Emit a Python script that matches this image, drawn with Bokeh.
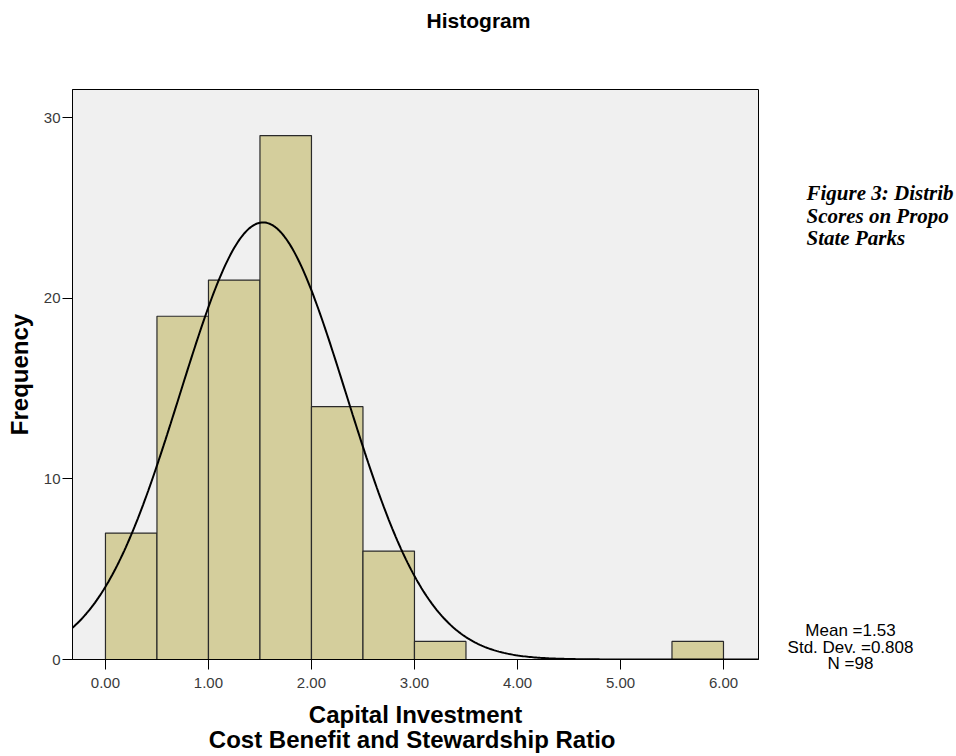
import numpy as np
from bokeh.plotting import figure
from bokeh.layouts import column, row
from bokeh.models import ColumnDataSource, FixedTicker, Range1d, NumeralTickFormatter
from bokeh.core.properties import value
from bokeh.embed import file_html
from bokeh.resources import INLINE

# Data
bin_left = [0.0, 0.5, 1.0, 1.5, 2.0, 2.5, 3.0, 5.5]
bin_right = [0.5, 1.0, 1.5, 2.0, 2.5, 3.0, 3.5, 6.0]
counts = [7, 19, 21, 29, 14, 6, 1, 1]
mean_val = 1.53
std_val = 0.808
n_val = 98
bin_width = 0.5
x_ticks = [0, 1, 2, 3, 4, 5, 6]
y_ticks = [0, 10, 20, 30]
stats_lines = ["Mean =1.53", "Std. Dev. =0.808", "N =98"]
caption_lines = ["Figure 3: Distrib", "Scores on Propo", "State Parks"]
title_text = "Histogram"
x_title = "Capital Investment\nCost Benefit  and Stewardship Ratio"
y_title = "Frequency"

FONT = "Liberation Sans"
TOP_H = 45
TOTAL_H = 756
MAIN_W = 760
SIDE_W = 196
FRAME_L = 72
FRAME_R = 758


def blank(w, h, xr, yr):
    f = figure(width=w, height=h, output_backend="svg", toolbar_location=None,
               x_range=Range1d(*xr), y_range=Range1d(*yr),
               x_axis_type=None, y_axis_type=None,
               min_border_left=0, min_border_right=0, min_border_top=0, min_border_bottom=0)
    f.outline_line_color = None
    f.background_fill_color = "white"
    f.border_fill_color = "white"
    f.xgrid.visible = False
    f.ygrid.visible = False
    return f


# Top strip with the title; its frame gets aligned with the main frame (page pixels)
top = blank(MAIN_W, TOP_H, (FRAME_L, FRAME_R), (TOP_H, 0))
top.text(x=[478], y=[20], text=[title_text], text_font=value(FONT), text_font_size="21px",
         text_font_style="bold", text_align="center", text_baseline="middle", text_color="black")

# Main histogram
p = figure(width=MAIN_W, height=TOTAL_H - TOP_H, output_backend="svg", toolbar_location=None,
           x_range=Range1d(-0.32, 6.34), y_range=Range1d(0, 31.55),
           min_border_left=FRAME_L, min_border_right=MAIN_W - FRAME_R, min_border_top=89 - TOP_H,
           min_border_bottom=TOTAL_H - 659)
p.background_fill_color = "#f0f0f0"
p.border_fill_color = "white"
p.outline_line_color = "black"
p.outline_line_width = 1
p.xgrid.visible = False
p.ygrid.visible = False

src = ColumnDataSource(dict(left=bin_left, right=bin_right, top=counts, bottom=[0] * len(counts)))
p.quad(left="left", right="right", top="top", bottom="bottom", source=src,
       fill_color="#d4ce9c", line_color="#2a2a2a", line_width=1.2)

xs = np.linspace(-0.32, 6.34, 400)
ys = n_val * bin_width / (std_val * np.sqrt(2 * np.pi)) * np.exp(-0.5 * ((xs - mean_val) / std_val) ** 2)
p.line(xs, ys, line_color="black", line_width=2)

for ax in (p.xaxis, p.yaxis):
    ax.axis_line_color = "black"
    ax.major_tick_line_color = "black"
    ax.major_tick_in = 0
    ax.major_tick_out = 10
    ax.minor_tick_line_color = None
    ax.major_label_text_font = FONT
    ax.major_label_text_font_size = "15px"
    ax.major_label_text_color = "#3a3a3a"
    ax.axis_label_text_font = FONT
    ax.axis_label_text_font_size = "24px"
    ax.axis_label_text_font_style = "bold"
    ax.axis_label_text_color = "black"

p.xaxis.ticker = FixedTicker(ticks=x_ticks)
p.xaxis.formatter = NumeralTickFormatter(format="0.00")
p.xaxis.major_label_standoff = 8
p.xaxis.axis_label = x_title
p.xaxis.axis_label_text_line_height = 0.95
p.xaxis.axis_label_standoff = 10

p.yaxis.ticker = FixedTicker(ticks=y_ticks)
p.yaxis.major_label_standoff = 2
p.yaxis.axis_label = y_title
p.yaxis.axis_label_standoff = 8

# Right side strip with stats and caption (page pixels)
side = blank(SIDE_W, TOTAL_H, (MAIN_W, MAIN_W + SIDE_W), (TOTAL_H, 0))
side.text(x=[850] * 3, y=[630, 647, 663], text=stats_lines, text_font=value(FONT),
          text_font_size="17px", text_align="center", text_baseline="middle", text_color="black")
side.text(x=[806] * 3, y=[192, 215, 237], text=caption_lines, text_font=value("Liberation Serif"),
          text_font_size="21px", text_font_style="bold italic", text_align="left",
          text_baseline="middle", text_color="black")

layout = row(column(top, p, spacing=0), side, spacing=0)
open("out.html", "w").write(file_html(layout, INLINE))
